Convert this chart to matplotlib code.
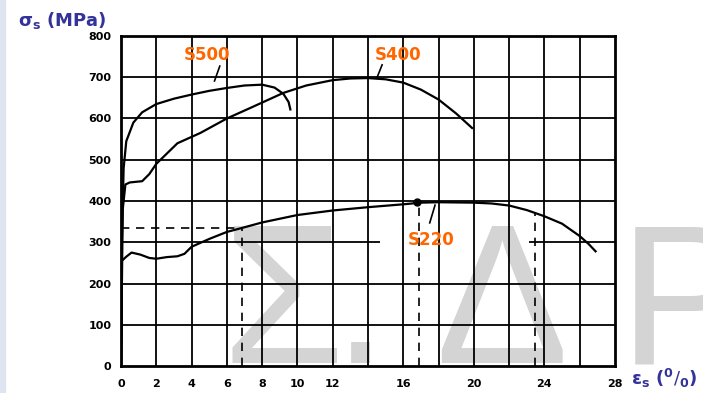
import matplotlib
matplotlib.use('Agg')
import matplotlib.pyplot as plt
from matplotlib.patches import Rectangle

# stress-strain curves (strain %, stress MPa)
s500_x = [0, 0.05, 0.15, 0.3, 0.7, 1.2, 2.0, 3.0, 4.0, 5.0, 6.0, 7.0, 8.0, 8.7, 9.2, 9.5, 9.6]
s500_y = [0, 300, 480, 545, 590, 615, 635, 648, 658, 667, 674, 680, 682, 675, 660, 640, 622]

s400_x = [0, 0.1, 0.25, 0.5, 1.2, 1.6, 2.0, 2.6, 3.2, 4.5, 6.0, 7.3, 9.2, 10.5, 12.0, 13.0, 14.0,
          15.0, 16.0, 17.0, 18.0, 19.0, 19.9]
s400_y = [0, 380, 440, 445, 448, 465, 490, 515, 540, 565, 600, 625, 662, 680, 693, 697, 698,
          695, 687, 670, 646, 612, 577]

s220_x = [0, 0.05, 0.3, 0.6, 1.1, 1.6, 2.0, 2.6, 3.2, 3.6, 4.0, 5.0, 6.0, 6.8, 8.0, 10.0, 12.0,
          14.0, 16.0, 17.0, 18.0, 20.0, 21.0, 22.0, 23.0, 24.0, 25.0, 26.0, 26.5, 26.9]
s220_y = [0, 255, 265, 275, 270, 262, 260, 264, 266, 272, 289, 308, 325, 334, 348, 366, 377,
          385, 392, 396, 397, 396, 394, 389, 378, 363, 345, 315, 296, 278]

# marker lines (dashed) and the S220 peak dot
peak_220 = (16.8, 398)
dash_v_x = [6.85, 16.9, 23.45]
dash_v_top = [335, 395, 372]
dash_h_y = 335

# labels and their leader lines
curve_names = ['S500', 'S400', 'S220']
label_x = [4.9, 15.7, 17.6]
label_y = [754, 754, 305]
leader_x = [[5.6, 5.3], [14.8, 14.5], [17.8, 17.5]]
leader_y = [[727, 691], [730, 698], [390, 347]]

grid_x = [2, 4, 6, 8, 10, 12, 14, 16, 18, 20, 22, 24, 26]
grid_y = [100, 200, 400, 500, 600, 700]
xtick_vals = [0, 2, 4, 6, 8, 10, 12, 16, 20, 24, 28]
ytick_vals = [0, 100, 200, 300, 400, 500, 600, 700, 800]

# watermark letters and where they start (in strain units)
wm_chars = ['Σ', '.', 'Δ', 'Ρ']
wm_x = [5.7, 12.0, 17.8, 28.2]

fig = plt.figure(figsize=(7.03, 3.93), dpi=100)
fig.patches.append(Rectangle((0, 0), 0.007, 1, transform=fig.transFigure,
                             color='#dfe5f0', zorder=0))
ax = fig.add_axes([0.1721, 0.0687, 0.7027, 0.8397])

# watermark
for ch, x in zip(wm_chars, wm_x):
    ax.text(x, 7, ch, fontsize=143, color='#d4d4d4', family='Liberation Sans',
            va='baseline', ha='left', clip_on=False, zorder=0)

# grid
ax.vlines(grid_x, 0, 800, color='black', lw=1.3, zorder=1)
ax.hlines(grid_y, 0, 28, color='black', lw=1.3, zorder=1)
ax.hlines(300, 0, 14.7, color='black', lw=1.3, zorder=1)
ax.hlines(300, 23.1, 28, color='black', lw=1.3, zorder=1)

for x, top in zip(dash_v_x, dash_v_top):
    ax.vlines(x, 0, top, color='black', lw=1.2, linestyles=(0, (5, 4)), zorder=1)
ax.hlines(dash_h_y, 0, dash_v_x[0], color='black', lw=1.2, linestyles=(0, (5, 4)), zorder=1)

# curves
ax.plot(s500_x, s500_y, color='black', lw=1.6, zorder=3)
ax.plot(s400_x, s400_y, color='black', lw=1.6, zorder=3)
ax.plot(s220_x, s220_y, color='black', lw=1.6, zorder=3)
ax.plot(*peak_220, 'o', color='black', ms=5, zorder=4)

for name, lx, ly, px, py in zip(curve_names, label_x, label_y, leader_x, leader_y):
    ax.text(lx, ly, name, color='#ff6600', fontsize=12, fontweight='bold',
            ha='center', va='center', zorder=5)
    ax.plot(px, py, color='black', lw=1.2, zorder=4)

ax.set_xlim(0, 28)
ax.set_ylim(0, 800)
ax.set_xticks(xtick_vals)
ax.set_xticklabels([str(v) for v in xtick_vals])
ax.set_yticks(ytick_vals)
ax.set_yticklabels([str(v) for v in ytick_vals])
ax.tick_params(axis='x', length=0, labelsize=8, pad=9)
ax.tick_params(axis='y', length=0, labelsize=8, pad=7)
for lab in ax.get_xticklabels() + ax.get_yticklabels():
    lab.set_fontweight('bold')
    lab.set_family(['Liberation Sans Narrow', 'DejaVu Sans'])

for sp in ax.spines.values():
    sp.set_linewidth(2)
    sp.set_zorder(6)

# axis titles
fig.text(0.088, 0.948, r'σ$_\mathbf{s}$ (MPa)', color='#33339a', fontsize=13,
         fontweight='bold', ha='center', va='center')
fig.text(0.945, 0.038, r'ε$_\mathbf{s}$ ($^\mathbf{0}/_\mathbf{0}$)', color='#33339a', fontsize=13,
         fontweight='bold', ha='center', va='center')

fig.savefig('out.png', dpi=100)
